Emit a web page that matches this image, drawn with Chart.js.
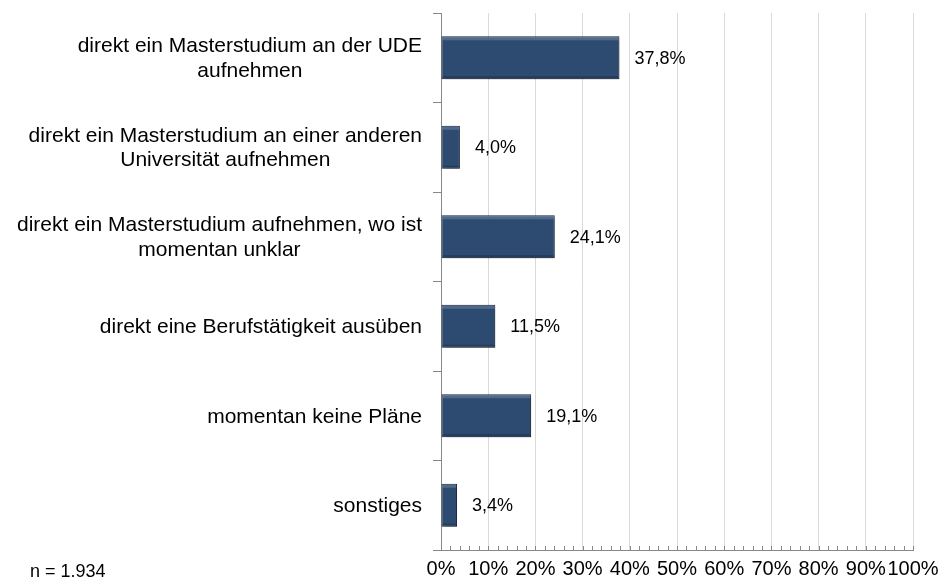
<!DOCTYPE html>
<html>
<head>
<meta charset="utf-8">
<script src="https://cdn.jsdelivr.net/npm/chart.js@4"></script>
<style>
  html, body { margin: 0; padding: 0; background: #fff; }
  #wrap { width: 941px; height: 584px; }
</style>
</head>
<body>
<div id="wrap"><canvas id="barChart" width="941" height="584"></canvas></div>
<script>
const categories = [
    ['direkt ein Masterstudium an der UDE', 'aufnehmen'],
    ['direkt ein Masterstudium an einer anderen', 'Universität aufnehmen'],
    ['direkt ein Masterstudium aufnehmen, wo ist', 'momentan unklar'],
    ['direkt eine Berufstätigkeit ausüben'],
    ['momentan keine Pläne'],
    ['sonstiges']
];
const shares = [37.8, 4.0, 24.1, 11.5, 19.1, 3.4];
const xTicks = [0, 10, 20, 30, 40, 50, 60, 70, 80, 90, 100];
const sampleNote = 'n = 1.934';

const FONT = 'Arial, "Liberation Sans", sans-serif';

// category labels: each block is right aligned, its lines are centred to each other
const catLabels = {
    id: 'catLabels',
    afterDraw(chart) {
        const { ctx } = chart;
        const y = chart.scales.y;
        ctx.save();
        ctx.font = '21px ' + FONT;
        ctx.fillStyle = '#000';
        ctx.textAlign = 'center';
        ctx.textBaseline = 'middle';
        categories.forEach((lines, i) => {
            const w = Math.max(...lines.map(l => ctx.measureText(l).width));
            const cx = 422 - w / 2;
            const cy = y.getPixelForValue(i) + 1;
            const lh = 24.5;
            lines.forEach((l, k) => {
                ctx.fillText(l, cx, cy + (k - (lines.length - 1) / 2) * lh);
            });
        });
        ctx.restore();
    }
};

// value labels, minor ticks and the note
const extras = {
    id: 'extras',
    beforeDatasetsDraw(chart) {
        const { ctx } = chart;
        ctx.save();
        ctx.shadowColor = 'rgba(0,0,0,0.35)';
        ctx.shadowBlur = 4;
        ctx.shadowOffsetX = 2;
        ctx.shadowOffsetY = 2;
    },
    afterDatasetsDraw(chart) {
        const { ctx } = chart;
        ctx.restore();
        const meta = chart.getDatasetMeta(0);
        // bevel highlight on top edge
        ctx.save();
        meta.data.forEach(bar => {
            const h = bar.height;
            ctx.fillStyle = 'rgba(255,255,255,0.18)';
            ctx.fillRect(bar.base + 1, bar.y - h / 2 + 1, bar.x - bar.base - 2, 3);
            ctx.fillStyle = 'rgba(0,0,0,0.2)';
            ctx.fillRect(bar.base + 1, bar.y + h / 2 - 3, bar.x - bar.base - 2, 2);
        });
        ctx.font = '18px ' + FONT;
        ctx.fillStyle = '#000';
        ctx.textAlign = 'left';
        ctx.textBaseline = 'middle';
        meta.data.forEach((bar, i) => {
            ctx.fillText(shares[i].toFixed(1).replace('.', ',') + '%', bar.x + 15, bar.y + 1);
        });
        ctx.restore();
    },
    afterDraw(chart) {
        const { ctx } = chart;
        const x = chart.scales.x;
        const bottom = chart.chartArea.bottom;
        ctx.save();
        ctx.strokeStyle = '#888';
        ctx.lineWidth = 1;
        ctx.beginPath();
        for (let v = 2; v <= 100; v += 2) {
            const px = Math.round(x.getPixelForValue(v)) + 0.5;
            ctx.moveTo(px, bottom);
            ctx.lineTo(px, bottom - 4);
        }
        ctx.stroke();
        ctx.font = '18px ' + FONT;
        ctx.fillStyle = '#000';
        ctx.textBaseline = 'middle';
        ctx.fillText(sampleNote, 30, 572);
        ctx.restore();
    }
};

new Chart(document.getElementById('barChart'), {
    type: 'bar',
    data: {
        labels: categories.map(c => c.join(' ')),
        datasets: [{
            data: shares,
            backgroundColor: '#2d4a70',
            borderColor: '#1b2d48',
            borderWidth: 1,
            borderSkipped: false,
            categoryPercentage: 1,
            barPercentage: 0.48
        }]
    },
    options: {
        indexAxis: 'y',
        responsive: false,
        animation: false,
        layout: { padding: { top: 13, right: 28, left: 0, bottom: 0 } },
        plugins: { legend: { display: false }, tooltip: { enabled: false } },
        scales: {
            x: {
                min: 0,
                max: 100,
                afterBuildTicks: scale => { scale.ticks = xTicks.map(v => ({ value: v })); },
                afterFit: scale => {
                    scale.height = 34;
                    scale.paddingLeft = 0;
                    scale.paddingRight = 0;
                },
                ticks: {
                    autoSkip: false,
                    maxRotation: 0,
                    padding: 7,
                    color: '#000',
                    font: { size: 20, family: FONT },
                    callback: v => v + '%'
                },
                grid: { color: '#d9d9d9', drawTicks: false },
                border: { color: '#888' }
            },
            y: {
                offset: true,
                afterFit: scale => { scale.width = 441; },
                ticks: { display: false },
                grid: { drawOnChartArea: false, offset: true, tickLength: 8, color: '#888' },
                border: { color: '#888' }
            }
        }
    },
    plugins: [catLabels, extras]
});
</script>
</body>
</html>
